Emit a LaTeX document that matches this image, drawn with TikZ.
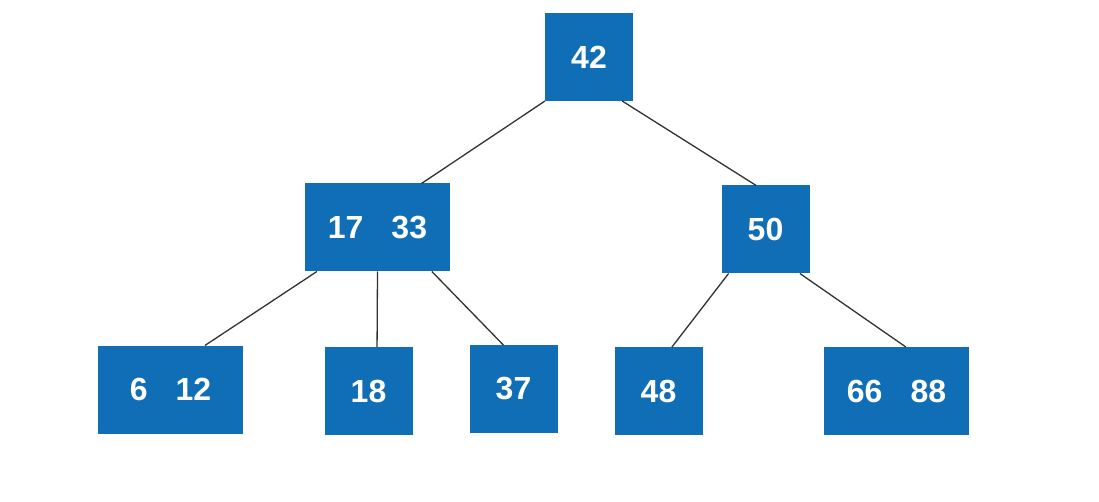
\documentclass[tikz,border=0pt]{standalone}
\usepackage{fontspec}
\setmainfont{Liberation Sans}
\definecolor{boxblue}{RGB}{16,110,182}
\definecolor{edgegray}{RGB}{50,50,50}
\begin{document}
\begin{tikzpicture}[x=1pt,y=-1pt,
  key/.style={fill=boxblue, draw=none, inner sep=0pt, outer sep=0pt,
    minimum height=88pt, text=white,
    font=\fontsize{32}{38}\selectfont\bfseries},
  one/.style={key, minimum width=88pt},
  two/.style={key, minimum width=145pt},
  edge/.style={draw=edgegray, line width=1.3pt}]
\useasboundingbox (0,0) rectangle (1099,502);
\fill[white] (0,0) rectangle (1099,502);

\node[one] (n42)   at (589,57)    {42};
\node[two] (n1733) at (377.5,227.5) {17\hspace{28pt}33};
\node[one] (n50)   at (765.5,229.5) {50};
\node[two] (n612)  at (170.5,389.5) {6\hspace{28pt}12};
\node[one] (n18)   at (368.5,391) {18};
\node[one] (n37)   at (513.5,389) {37};
\node[one] (n48)   at (658.5,391) {48};
\node[two] (n6688) at (896.5,391) {66\hspace{28pt}88};

\draw[edge] (n42.south west) -- (n1733.45);
\draw[edge] (n42.307) -- (n50.102);
\draw[edge] (n1733.216) -- (n612.52);
\draw[edge] (n1733.270) -- (n18.79);
\draw[edge] (n1733.321) -- (n37.103);
\draw[edge] (n50.230) -- (n48.73);
\draw[edge] (n50.308) -- (n6688.78);
\end{tikzpicture}
\end{document}
